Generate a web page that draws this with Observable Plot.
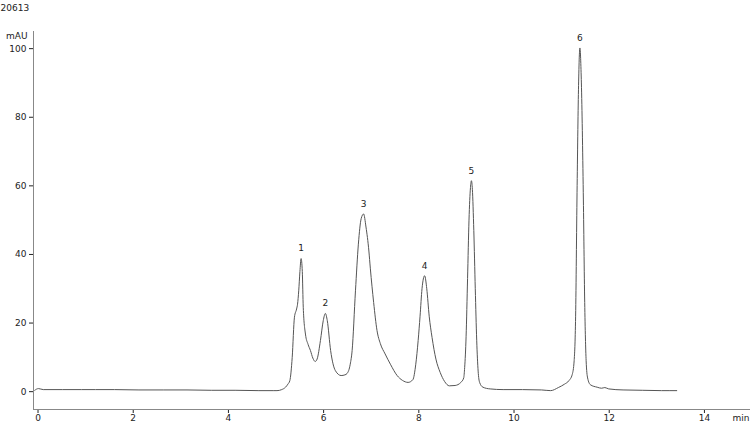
<!DOCTYPE html>
<html>
<head>
<meta charset="utf-8">
<script src="https://cdn.jsdelivr.net/npm/d3@7"></script>
<script src="https://cdn.jsdelivr.net/npm/@observablehq/plot@0.6"></script>
<style>
  html, body { margin: 0; padding: 0; background: #fff; }
  #chart svg { display: block; }
</style>
</head>
<body>
<div id="chart"></div>
<script>
// Retention time (min) and absorbance (mAU)
const times = [
  -0.07, 0.01, 0.11, 0.51, 0.91, 1.21, 1.61, 2.12, 2.63, 3.13, 3.64, 4.14, 4.64, 4.94, 5.02, 5.12,
  5.20, 5.25, 5.29, 5.34, 5.387, 5.432, 5.452, 5.477, 5.502, 5.527, 5.552, 5.572, 5.618, 5.673, 5.723,
  5.773, 5.823, 5.863, 5.933, 5.992, 6.037, 6.077, 6.147, 6.248, 6.368, 6.448, 6.493, 6.559, 6.599, 6.669,
  6.730, 6.790, 6.840, 6.890, 6.951, 6.981, 7.051, 7.122, 7.192, 7.292, 7.403, 7.544, 7.655, 7.775, 7.875,
  7.936, 7.986, 8.026, 8.067, 8.122, 8.167, 8.218, 8.278, 8.359, 8.449, 8.540, 8.641, 8.762, 8.883, 8.943,
  8.963, 8.993, 9.024, 9.054, 9.085, 9.105, 9.125, 9.155, 9.186, 9.216, 9.246, 9.277, 9.347, 9.499, 9.771,
  10.176, 10.579, 10.770, 10.931, 11.062, 11.153, 11.223, 11.263, 11.294, 11.324, 11.354, 11.384, 11.415,
  11.455, 11.485, 11.515, 11.546, 11.606, 11.747, 11.838, 11.908, 11.989, 12.291, 12.694, 13.097, 13.418
];
const signal = [
  0.4, 0.9, 0.6, 0.6, 0.6, 0.6, 0.6, 0.5, 0.5, 0.5, 0.4, 0.4, 0.3, 0.3, 0.3, 0.6,
  1.3, 2.2, 3.2, 10, 21.7, 24.1, 25.5, 29.4, 35, 38.8, 35, 24.6, 16.8, 13.8, 12,
  9.8, 8.8, 9.5, 14.9, 20.7, 22.8, 20.7, 12, 6.1, 4.7, 4.9, 5.3, 8, 12, 29.4,
  43, 50.5, 51.8, 48, 41, 36, 26, 17.8, 14, 11, 8, 4.7, 3.3, 2.7, 3.5,
  8, 14.9, 22, 30, 33.8, 30, 22, 15.8, 9.5, 5.6, 3, 1.7, 1.8, 2.7, 4,
  7, 16, 33, 50, 59.5, 61.5, 59, 47, 30, 15, 6, 2.7, 1.3, 0.8, 0.6,
  0.6, 0.5, 0.3, 1.2, 2.2, 3.2, 5, 9, 22, 58, 88, 100.2, 90,
  58, 26, 9, 4, 2, 1.3, 1.0, 1.2, 0.8, 0.5, 0.4, 0.3, 0.3
];

// Peak annotations
const peakTimes = [5.527, 6.037, 6.840, 8.122, 9.105, 11.384];
const peakHeights = [38.8, 22.8, 51.8, 33.8, 61.5, 100.2];
const peakLabels = ["1", "2", "3", "4", "5", "6"];

// Axis ticks
const xTicks = [0, 2, 4, 6, 8, 10, 12, 14];
const yTicks = [0, 20, 40, 60, 80, 100];

const trace = times.map((t, i) => ({t, v: signal[i]}));
const peaks = peakTimes.map((t, i) => ({t, v: peakHeights[i], label: peakLabels[i]}));

const xMin = -0.095, xMax = 14.968, yMin = -5.2, yMax = 105;

const chart = Plot.plot({
  width: 750,
  height: 423,
  marginLeft: 33,
  marginRight: 0,
  marginTop: 31,
  marginBottom: 14,
  style: {fontFamily: "DejaVu Sans, Verdana, sans-serif", fontSize: "9px", color: "#222", background: "#fff"},
  x: {domain: [xMin, xMax], ticks: xTicks, tickSize: 4, tickPadding: 1, label: null},
  y: {domain: [yMin, yMax], ticks: yTicks, tickSize: 4, tickPadding: 3, label: null},
  marks: [
    Plot.ruleX([xMin], {stroke: "#888", strokeWidth: 1}),
    Plot.ruleY([yMin], {stroke: "#888", strokeWidth: 1}),
    Plot.line(trace, {x: "t", y: "v", stroke: "#555", strokeWidth: 1, curve: "monotone-x"}),
    Plot.text(peaks, {x: "t", y: "v", text: "label", dy: -10, fill: "#222", fontSize: 9}),
    Plot.text(["mAU"], {frameAnchor: "top-left", dx: -6, dy: 1, textAnchor: "end", fill: "#222"}),
    Plot.text(["min"], {frameAnchor: "bottom-right", dx: -1, dy: 11, textAnchor: "end", fill: "#222"}),
    Plot.text(["20613"], {frameAnchor: "top-left", dx: -33, dy: -27, textAnchor: "start", fill: "#222"})
  ]
});
document.getElementById("chart").appendChild(chart);
</script>
</body>
</html>
